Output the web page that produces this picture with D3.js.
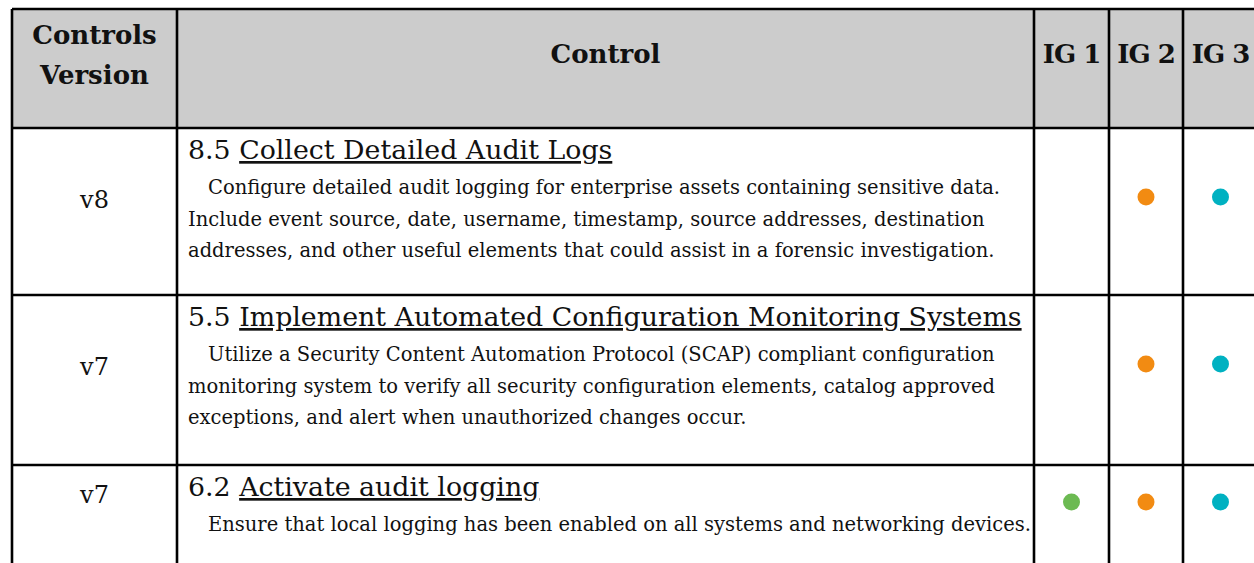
<!DOCTYPE html>
<html>
<head>
<meta charset="utf-8">
<script src="https://cdn.jsdelivr.net/npm/d3@7"></script>
<style>
  html, body { margin: 0; padding: 0; background: #fff; }
  svg { display: block; }
</style>
</head>
<body>
<svg id="chart" width="1254" height="563"></svg>
<script>
// ---------- data ----------
const headerLabels = [["Controls", "Version"], ["Control"], ["IG 1"], ["IG 2"], ["IG 3"]];
const versions = ["v8", "v7", "v7"];
const controlIds = ["8.5", "5.5", "6.2"];
const controlTitles = ["Collect Detailed Audit Logs", "Implement Automated Configuration Monitoring Systems", "Activate audit logging"];
const descriptions = [
  ["Configure detailed audit logging for enterprise assets containing sensitive data.",
   "Include event source, date, username, timestamp, source addresses, destination",
   "addresses, and other useful elements that could assist in a forensic investigation."],
  ["Utilize a Security Content Automation Protocol (SCAP) compliant configuration",
   "monitoring system to verify all security configuration elements, catalog approved",
   "exceptions, and alert when unauthorized changes occur."],
  ["Ensure that local logging has been enabled on all systems and networking devices."]
];
const ig1 = [false, false, true];
const ig2 = [true, true, true];
const ig3 = [true, true, true];
const igColors = ["#6cba52", "#f28b12", "#00b1c1"];

// ---------- layout ----------
const svg = d3.select("#chart");
const colEdges = [12, 177, 1034, 1109, 1183, 1258];
const rowEdges = [9, 128, 295, 465, 640];
const serif = "'DejaVu Serif', 'Liberation Serif', serif";
const lineH = 31.5;

const xc = i => (colEdges[i] + colEdges[i + 1]) / 2;

// header background
svg.append("rect")
  .attr("x", colEdges[0]).attr("y", rowEdges[0])
  .attr("width", colEdges[5] - colEdges[0]).attr("height", rowEdges[1] - rowEdges[0])
  .attr("fill", "#cccccc");

// header labels
const hdr = svg.append("g").attr("font-family", serif).attr("font-weight", "bold")
  .attr("fill", "#111").attr("text-anchor", "middle").attr("font-size", 26);
headerLabels.forEach((lines, i) => {
  const t = hdr.append("text").attr("x", xc(i));
  if (lines.length === 2) {
    t.selectAll("tspan").data(lines).join("tspan")
      .attr("x", xc(i)).attr("y", (d, k) => 44 + k * 40).text(d => d);
  } else {
    t.attr("y", 63).text(lines[0]);
    if (i >= 2) t.attr("letter-spacing", -1);
  }
});

// rows
const rows = svg.append("g").selectAll("g").data(versions).join("g");
rows.each(function (v, r) {
  const g = d3.select(this);
  const top = rowEdges[r + 1];
  const nLines = 1 + descriptions[r].length;
  const dotY = top + 5 + nLines * 16;

  g.append("text")
    .attr("x", xc(0)).attr("y", top + 38 + (nLines - 2) * 21)
    .attr("text-anchor", "middle")
    .attr("font-family", serif).attr("font-size", 24).attr("fill", "#111")
    .text(v);

  const title = g.append("text")
    .attr("x", colEdges[1] + 11).attr("y", top + 31)
    .attr("font-family", serif).attr("font-size", 26.8).attr("fill", "#111");
  title.append("tspan").text(controlIds[r] + " ");
  title.append("tspan").style("text-decoration", "underline").text(controlTitles[r]);

  g.append("text")
    .attr("font-family", serif).attr("font-size", 19.5).attr("fill", "#111")
    .selectAll("tspan").data(descriptions[r]).join("tspan")
    .attr("x", (d, k) => colEdges[1] + 11 + (k === 0 ? 20 : 0))
    .attr("y", (d, k) => top + 66 + k * lineH)
    .text(d => d);

  [ig1, ig2, ig3].forEach((arr, j) => {
    if (arr[r]) {
      g.append("circle")
        .attr("cx", xc(2 + j)).attr("cy", dotY).attr("r", 8.5)
        .attr("fill", igColors[j]);
    }
  });
});

// grid lines
const grid = svg.append("g").attr("stroke", "#000").attr("stroke-width", 2.6);
grid.selectAll("line.v").data(colEdges).join("line").attr("class", "v")
  .attr("x1", d => d).attr("x2", d => d)
  .attr("y1", rowEdges[0]).attr("y2", rowEdges[rowEdges.length - 1]);
grid.selectAll("line.h").data(rowEdges.slice(0, 4)).join("line").attr("class", "h")
  .attr("y1", d => d).attr("y2", d => d)
  .attr("x1", colEdges[0]).attr("x2", colEdges[5]);
</script>
</body>
</html>
